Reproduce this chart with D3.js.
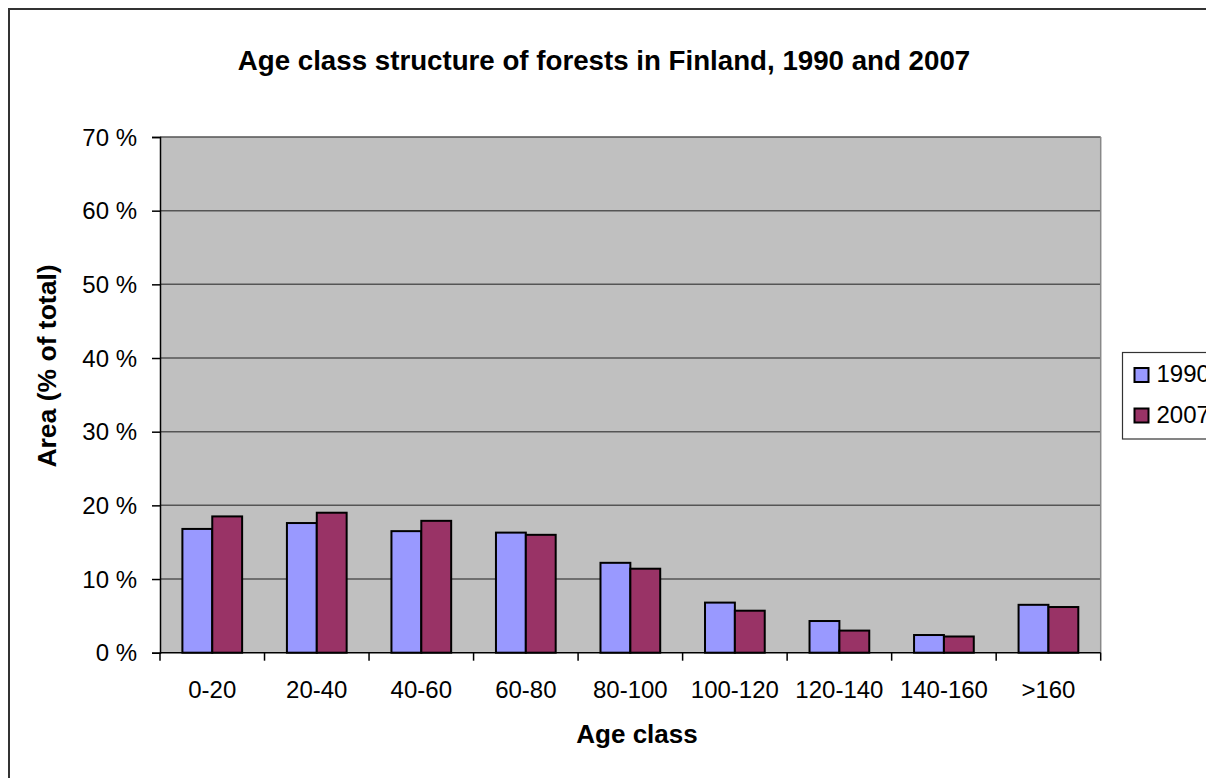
<!DOCTYPE html>
<html>
<head>
<meta charset="utf-8">
<script src="https://cdn.jsdelivr.net/npm/d3@7"></script>
<style>
  html, body { margin: 0; padding: 0; background: #fff; }
  svg { display: block; }
  text { font-family: "Liberation Sans", Arial, sans-serif; fill: #000; }
</style>
</head>
<body>
<svg id="chart" width="1206" height="778"></svg>
<script>
// Age classes (years) and share of forest area per class
const categories = ["0-20", "20-40", "40-60", "60-80", "80-100", "100-120", "120-140", "140-160", ">160"];
const seriesNames = ["1990", "2007"];
const values1990 = [16.8, 17.6, 16.5, 16.3, 12.2, 6.8, 4.3, 2.4, 6.5];
const values2007 = [18.5, 19.0, 17.9, 16.0, 11.4, 5.7, 3.0, 2.2, 6.2];
const yTicks = [0, 10, 20, 30, 40, 50, 60, 70];
const colors = ["#9999FF", "#993366"];

const svg = d3.select("#chart");
const W = 1206, H = 778;
const plot = { left: 160, top: 137, right: 1100.7, bottom: 652.7 };

// outer chart frame (runs off the right and bottom edge)
svg.append("rect")
  .attr("x", 9).attr("y", 9).attr("width", 1400).attr("height", 1000)
  .attr("fill", "#fff").attr("stroke", "#333").attr("stroke-width", 2);

const x = d3.scaleBand().domain(categories).range([plot.left, plot.right]).paddingInner(0).paddingOuter(0);
const xInner = d3.scaleBand().domain(seriesNames).range([0, x.bandwidth()]).paddingInner(0).paddingOuter(0.75);
const y = d3.scaleLinear().domain([0, 70]).range([plot.bottom, plot.top]);

// plot background
svg.append("rect")
  .attr("x", plot.left).attr("y", plot.top)
  .attr("width", plot.right - plot.left).attr("height", plot.bottom - plot.top)
  .attr("fill", "#C0C0C0");

// horizontal gridlines
svg.append("g")
  .selectAll("line")
  .data(yTicks.filter(d => d > 0))
  .join("line")
  .attr("x1", plot.left).attr("x2", plot.right)
  .attr("y1", d => y(d)).attr("y2", d => y(d))
  .attr("stroke", "#555").attr("stroke-width", 1.5);

// right border of plot area
svg.append("line")
  .attr("x1", plot.right).attr("x2", plot.right)
  .attr("y1", plot.top).attr("y2", plot.bottom)
  .attr("stroke", "#888").attr("stroke-width", 1.5);

// bars
const series = [values1990, values2007];
const groups = svg.append("g")
  .selectAll("g")
  .data(categories)
  .join("g")
  .attr("transform", d => `translate(${x(d)},0)`);

groups.selectAll("rect")
  .data((c, i) => seriesNames.map((s, k) => ({ s, k, v: series[k][i] })))
  .join("rect")
  .attr("x", d => xInner(d.s))
  .attr("width", xInner.bandwidth())
  .attr("y", d => y(d.v))
  .attr("height", d => y(0) - y(d.v))
  .attr("fill", d => colors[d.k])
  .attr("stroke", "#000")
  .attr("stroke-width", 2);

// y axis
const yAxis = d3.axisLeft(y).tickValues(yTicks).tickSize(8).tickFormat(d => d + " %");
const gy = svg.append("g").attr("transform", `translate(${plot.left},0)`).call(yAxis);
gy.select(".domain").attr("stroke", "#000").attr("stroke-width", 1.5);
gy.selectAll(".tick line").attr("stroke", "#000").attr("stroke-width", 1.5);
gy.selectAll(".tick text")
  .attr("x", -23).attr("dy", null).attr("y", 8)
  .style("font-size", "24px").style("font-family", "'Liberation Sans', Arial, sans-serif");

// x axis: ticks at category boundaries
const gx = svg.append("g").attr("transform", `translate(0,${plot.bottom})`);
gx.append("line")
  .attr("x1", plot.left).attr("x2", plot.right)
  .attr("stroke", "#000").attr("stroke-width", 1.5);
gx.selectAll("line.tk")
  .data(categories.map(c => x(c)).concat([plot.right]))
  .join("line").attr("class", "tk")
  .attr("x1", d => d).attr("x2", d => d)
  .attr("y1", 0).attr("y2", 8)
  .attr("stroke", "#000").attr("stroke-width", 1.5);
gx.selectAll("text")
  .data(categories)
  .join("text")
  .attr("x", d => x(d) + x.bandwidth() / 2)
  .attr("y", 45.5)
  .attr("text-anchor", "middle")
  .style("font-size", "24px")
  .text(d => d);

// titles
svg.append("text")
  .attr("x", 604).attr("y", 70)
  .attr("text-anchor", "middle")
  .style("font-size", "27.7px").style("font-weight", "bold")
  .text("Age class structure of forests in Finland, 1990 and 2007");

svg.append("text")
  .attr("x", 637).attr("y", 743)
  .attr("text-anchor", "middle")
  .style("font-size", "26px").style("font-weight", "bold")
  .text("Age class");

svg.append("text")
  .attr("transform", "translate(56,366) rotate(-90)")
  .attr("text-anchor", "middle")
  .style("font-size", "26.5px").style("font-weight", "bold")
  .text("Area (% of total)");

// legend (extends past the right edge)
const lg = svg.append("g").attr("transform", "translate(1122.5,352.5)");
lg.append("rect")
  .attr("width", 200).attr("height", 86.5)
  .attr("fill", "#fff").attr("stroke", "#333").attr("stroke-width", 1.2);
const items = lg.selectAll("g")
  .data(seriesNames)
  .join("g")
  .attr("transform", (d, i) => `translate(0,${15.5 + i * 40.5})`);
items.append("rect")
  .attr("x", 12).attr("y", 0).attr("width", 14).attr("height", 14)
  .attr("fill", (d, i) => colors[i]).attr("stroke", "#000").attr("stroke-width", 2);
items.append("text")
  .attr("x", 34).attr("y", 14)
  .style("font-size", "24px")
  .text(d => d);
</script>
</body>
</html>
